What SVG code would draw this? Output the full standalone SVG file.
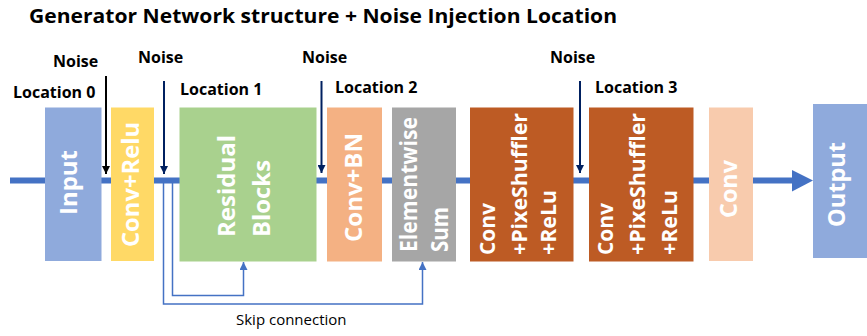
<svg xmlns="http://www.w3.org/2000/svg" width="867" height="336" viewBox="0 0 867 336">
<defs>
<style>
.lbl{font-family:"Open Sans","DejaVu Sans",sans-serif;font-weight:bold;font-size:16px;fill:#000}
.title{font-family:"Open Sans","DejaVu Sans",sans-serif;font-weight:bold;font-size:20px;fill:#000}
.bt{font-family:"Open Sans","DejaVu Sans",sans-serif;font-weight:bold;font-size:24px;fill:#fff}
.bs{font-family:"Open Sans","DejaVu Sans",sans-serif;font-weight:bold;font-size:22px;fill:#fff}
.skip{fill:none;stroke:#4472C4;stroke-width:1.5}
.noise{fill:none;stroke-width:2}
</style>
<marker id="ah-black" viewBox="0 0 10 10" refX="10" refY="5" markerWidth="10" markerHeight="8" markerUnits="userSpaceOnUse" orient="auto"><path d="M0,0 L10,5 L0,10 Z" fill="#000"/></marker>
<marker id="ah-navy" viewBox="0 0 10 10" refX="10" refY="5" markerWidth="10" markerHeight="8" markerUnits="userSpaceOnUse" orient="auto"><path d="M0,0 L10,5 L0,10 Z" fill="#002060"/></marker>
<marker id="ah-blue" viewBox="0 0 10 10" refX="10" refY="5" markerWidth="9" markerHeight="8" markerUnits="userSpaceOnUse" orient="auto"><path d="M0,0 L10,5 L0,10 Z" fill="#4472C4"/></marker>
</defs>
<rect width="867" height="336" fill="#fff"/>
<text class="title" x="29" y="23" textLength="588" lengthAdjust="spacingAndGlyphs">Generator Network structure + Noise Injection Location</text>

<g id="connectors">
<rect x="10" y="177.5" width="785" height="6" fill="#4472C4"/>
<polygon points="792,170 813,180.5 792,191.5" fill="#4472C4"/>
<line class="noise" x1="106" y1="76" x2="106" y2="174" stroke="#000" marker-end="url(#ah-black)"/>
<line class="noise" x1="164" y1="81" x2="164" y2="174" stroke="#002060" marker-end="url(#ah-navy)"/>
<line class="noise" x1="321.5" y1="81" x2="321.5" y2="173" stroke="#002060" marker-end="url(#ah-navy)"/>
<line class="noise" x1="580" y1="81" x2="580" y2="173" stroke="#002060" marker-end="url(#ah-navy)"/>
<polyline class="skip" points="163.5,183 163.5,304 422.5,304 422.5,262" marker-end="url(#ah-blue)"/>
<polyline class="skip" points="172.5,183 172.5,295.5 243.5,295.5 243.5,262" marker-end="url(#ah-blue)"/>
</g>

<g id="labels">
<text class="lbl" x="53" y="67">Noise</text>
<text class="lbl" x="13" y="98">Location 0</text>
<text class="lbl" x="138" y="63">Noise</text>
<text class="lbl" x="180" y="95">Location 1</text>
<text class="lbl" x="302" y="63">Noise</text>
<text class="lbl" x="335" y="93">Location 2</text>
<text class="lbl" x="550" y="63">Noise</text>
<text class="lbl" x="595" y="93">Location 3</text>
<text x="236" y="325" style="font-family:'Open Sans','DejaVu Sans',sans-serif;font-size:15px;fill:#000">Skip connection</text>
</g>

<g id="input">
<rect x="45" y="107.5" width="56.5" height="153.5" fill="#8FAADC"/>
<text class="bt" transform="translate(77,182.5) rotate(-90)" text-anchor="middle" textLength="65" lengthAdjust="spacingAndGlyphs">Input</text>
</g>
<g id="conv-relu">
<rect x="111" y="107.5" width="43" height="153.5" fill="#FFD966"/>
<text class="bt" transform="translate(139,184.5) rotate(-90)" text-anchor="middle" textLength="125" lengthAdjust="spacingAndGlyphs">Conv+Relu</text>
</g>
<g id="residual-blocks">
<rect x="179.5" y="107.5" width="137" height="154" fill="#A9D18E"/>
<text class="bt" transform="translate(235,237) rotate(-90)" textLength="102" lengthAdjust="spacingAndGlyphs">Residual</text>
<text class="bt" transform="translate(270,237) rotate(-90)" textLength="77" lengthAdjust="spacingAndGlyphs">Blocks</text>
</g>
<g id="conv-bn">
<rect x="327" y="107.5" width="55" height="154" fill="#F4B183"/>
<text class="bt" transform="translate(362,187.5) rotate(-90)" text-anchor="middle" textLength="109" lengthAdjust="spacingAndGlyphs">Conv+BN</text>
</g>
<g id="elementwise-sum">
<rect x="392" y="107.5" width="64" height="154" fill="#A6A6A6"/>
<text class="bt" transform="translate(417,252) rotate(-90)" textLength="135" lengthAdjust="spacingAndGlyphs">Elementwise</text>
<text class="bt" transform="translate(448,252) rotate(-90)" textLength="45" lengthAdjust="spacingAndGlyphs">Sum</text>
</g>
<g id="conv-pixelshuffler-1">
<rect x="470" y="107.5" width="103.5" height="154" fill="#BD5B24"/>
<text class="bs" transform="translate(495,255) rotate(-90)" textLength="52" lengthAdjust="spacingAndGlyphs">Conv</text>
<text class="bs" transform="translate(527,255) rotate(-90)" textLength="142" lengthAdjust="spacingAndGlyphs">+PixeShuffler</text>
<text class="bs" transform="translate(556,255) rotate(-90)" textLength="65" lengthAdjust="spacingAndGlyphs">+ReLu</text>
</g>
<g id="conv-pixelshuffler-2">
<rect x="589" y="107.5" width="104.5" height="154" fill="#BD5B24"/>
<text class="bs" transform="translate(613,255) rotate(-90)" textLength="52" lengthAdjust="spacingAndGlyphs">Conv</text>
<text class="bs" transform="translate(645,255) rotate(-90)" textLength="142" lengthAdjust="spacingAndGlyphs">+PixeShuffler</text>
<text class="bs" transform="translate(677,255) rotate(-90)" textLength="65" lengthAdjust="spacingAndGlyphs">+ReLu</text>
</g>
<g id="conv">
<rect x="709" y="107.5" width="44" height="153.5" fill="#F8CBAD"/>
<text class="bt" transform="translate(737,189) rotate(-90)" text-anchor="middle" textLength="58" lengthAdjust="spacingAndGlyphs">Conv</text>
</g>
<g id="output">
<rect x="813" y="104" width="54" height="154" fill="#8FAADC"/>
<text class="bt" transform="translate(845,184.5) rotate(-90)" text-anchor="middle" textLength="85" lengthAdjust="spacingAndGlyphs">Output</text>
</g>
</svg>
